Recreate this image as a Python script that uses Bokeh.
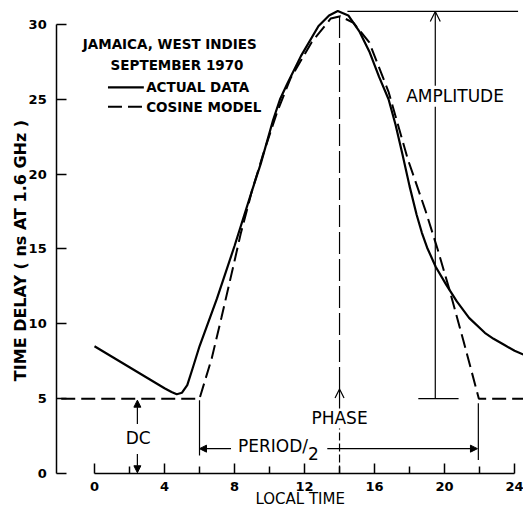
from math import pi
from bokeh.plotting import figure
from bokeh.models import Range1d, FixedTicker, Arrow, OpenHead, NormalHead, LinearAxis
from bokeh.core.properties import value
from bokeh.embed import file_html
from bokeh.resources import INLINE

# ---- data ----
actual_time = [0, 1, 2, 3, 4, 4.4, 4.7, 5.0, 5.3, 5.6, 6.0, 6.5, 7.0, 8.0, 9.0, 9.5,
               10.2, 10.6, 11.0, 11.8, 12.8, 13.4, 13.9, 14.5, 15.15, 15.7, 16.26,
               16.8, 17.2, 17.6, 18.0, 18.4, 18.7, 19.0, 19.5, 20.1, 20.7, 21.4, 22.3,
               22.8, 23.4, 24.0, 24.5]
actual_delay = [8.5, 7.8, 7.1, 6.4, 5.7, 5.45, 5.3, 5.4, 5.9, 7.0, 8.5, 10.1, 11.7,
                15.2, 18.9, 20.7, 23.6, 25.0, 26.0, 27.9, 29.9, 30.6, 30.9, 30.6,
                29.5, 28.2, 26.5, 25.0, 23.3, 21.3, 19.2, 17.3, 16.1, 15.1, 13.8,
                12.6, 11.5, 10.4, 9.4, 9.0, 8.6, 8.2, 7.95]

model_time = [-1.9, 6.0, 6.7, 7.25, 8.0, 8.35, 9.0, 9.6, 10.45, 11.2, 12.4, 13.5,
              14.05, 14.8, 15.7, 16.8, 17.9, 18.9, 19.6, 20.3, 21.07, 21.96, 24.6]
model_delay = [5.0, 5.0, 7.7, 10.4, 14.2, 16.0, 18.9, 21.2, 24.2, 26.4, 28.8, 30.4,
               30.55, 30.1, 28.8, 25.5, 21.0, 17.6, 15.0, 12.2, 8.9, 5.0, 5.0]

x_ticks = [0, 4, 8, 12, 16, 20, 24]
x_minor = [2, 6, 10, 14, 18, 22]
y_ticks = [0, 5, 10, 15, 20, 25, 30]

dc_level = 5.0
peak_level = 30.87
phase_time = 14.0
amp_time = 19.47
period_start = 6.0
period_end = 21.93

y_axis_at = -2.18      # time value where the delay axis stands
FONT = "DejaVu Sans"

p = figure(width=523, height=507, output_backend="svg", toolbar_location=None,
           x_range=Range1d(-5.37, 24.51), y_range=Range1d(-2.27, 31.6),
           min_border_left=0, min_border_right=0, min_border_top=0,
           min_border_bottom=0)
p.outline_line_color = None
p.grid.visible = False
p.background_fill_color = "white"

# x axis: line + short ticks (main axis), long ticks (second axis)
xa = p.xaxis[0]
xa.fixed_location = 0
xa.ticker = FixedTicker(ticks=[], minor_ticks=x_minor)
xa.bounds = (0, 24)
xa.minor_tick_in = 7
xa.minor_tick_out = 0
xa.major_tick_in = 0
xa.major_tick_out = 0
xa.axis_line_width = 1.5
xa.minor_tick_line_width = 1.5
xa.major_label_standoff = 0

xa2 = LinearAxis(fixed_location=0, ticker=FixedTicker(ticks=[], minor_ticks=x_ticks),
                 bounds=(0, 24), axis_line_color=None, minor_tick_in=10, minor_tick_out=0,
                 major_tick_in=0, major_tick_out=0, minor_tick_line_width=1.5,
                 major_label_standoff=0)
p.add_layout(xa2, "below")

ya = p.yaxis[0]
ya.fixed_location = y_axis_at
ya.ticker = FixedTicker(ticks=[], minor_ticks=y_ticks)
ya.bounds = (0, 30)
ya.minor_tick_in = 10
ya.minor_tick_out = 0
ya.major_tick_in = 0
ya.major_tick_out = 0
ya.axis_line_width = 1.5
ya.minor_tick_line_width = 1.5
ya.major_label_standoff = 0

# tick labels and axis titles
p.text(x=x_ticks, y=[-0.87] * len(x_ticks), text=[str(t) for t in x_ticks],
       text_font=value(FONT), text_font_style="bold", text_font_size="13px",
       text_align="center", text_baseline="middle", text_color="black")
p.text(x=[y_axis_at - 0.55] * len(y_ticks), y=y_ticks, text=[str(t) for t in y_ticks],
       text_font=value(FONT), text_font_style="bold", text_font_size="13px",
       text_align="right", text_baseline="middle", text_color="black")
p.text(x=[11.75], y=[-1.68], text=["LOCAL TIME"], text_font=value(FONT),
       text_font_size="15px", text_align="center", text_baseline="middle", text_color="black")
p.text(x=[-4.23], y=[14.9], text=["TIME DELAY ( ns AT 1.6 GHz )"], angle=pi / 2,
       text_font=value(FONT), text_font_style="bold", text_font_size="16px",
       text_align="center", text_baseline="middle", text_color="black")

# curves
p.line(actual_time, actual_delay, line_color="black", line_width=2.2)
p.line(model_time, model_delay, line_color="black", line_width=2.0, line_dash="14 6")

# legend (drawn manually)
p.text(x=[4.3, 4.85], y=[28.7, 27.3], text=["JAMAICA, WEST INDIES", "SEPTEMBER  1970"],
       text_font=value(FONT), text_font_style="bold", text_font_size="13.5px",
       text_align="center", text_baseline="middle", text_color="black")
p.line([0.77, 2.82], [25.8, 25.8], line_color="black", line_width=2.2)
p.line([0.77, 2.82], [24.5, 24.5], line_color="black", line_width=2.0, line_dash="14 6")
p.text(x=[2.95, 2.95], y=[25.8, 24.5], text=["ACTUAL DATA", "COSINE MODEL"],
       text_font=value(FONT), text_font_style="bold", text_font_size="13.5px",
       text_align="left", text_baseline="middle", text_color="black")

# amplitude construction
p.line([phase_time + 0.45, 24.2], [peak_level, peak_level], line_color="black", line_width=1.2)
p.line([18.5, 20.8], [dc_level, dc_level], line_color="black", line_width=1.2)
p.line([amp_time, amp_time], [dc_level, 24.5], line_color="black", line_width=1.2)
p.add_layout(Arrow(end=OpenHead(size=10, line_width=1.2), x_start=amp_time, y_start=25.9,
                   x_end=amp_time, y_end=peak_level, line_width=1.2))
p.text(x=[20.6], y=[25.2], text=["AMPLITUDE"], text_font=value(FONT),
       text_font_size="17px", text_align="center", text_baseline="middle", text_color="black")

# phase construction
p.line([phase_time, phase_time], [5.65, peak_level], line_color="black", line_width=1.2,
       line_dash="22 5")
p.line([phase_time, phase_time], [0, 3.0], line_color="black", line_width=1.2,
       line_dash="8 3")
p.add_layout(Arrow(end=OpenHead(size=9, line_width=1.2), x_start=phase_time, y_start=4.35,
                   x_end=phase_time, y_end=5.65, line_width=1.2))
p.text(x=[phase_time], y=[3.7], text=["PHASE"], text_font=value(FONT),
       text_font_size="17px", text_align="center", text_baseline="middle", text_color="black")

# DC construction
p.add_layout(Arrow(end=NormalHead(size=7, fill_color="black", line_color="black"),
                   x_start=2.45, y_start=3.3, x_end=2.45, y_end=dc_level - 0.1, line_width=1.2))
p.add_layout(Arrow(end=NormalHead(size=7, fill_color="black", line_color="black"),
                   x_start=2.45, y_start=1.3, x_end=2.45, y_end=0.05, line_width=1.2))
p.text(x=[2.5], y=[2.4], text=["DC"], text_font=value(FONT),
       text_font_size="17px", text_align="center", text_baseline="middle", text_color="black")

# period/2 construction
p.line([period_start, period_start], [1.2, 4.9], line_color="black", line_width=1.2)
p.line([period_end, period_end], [0.9, 4.7], line_color="black", line_width=1.2)
p.add_layout(Arrow(end=NormalHead(size=7, fill_color="black", line_color="black"),
                   x_start=7.8, y_start=1.66, x_end=period_start, y_end=1.66, line_width=1.2))
p.add_layout(Arrow(end=NormalHead(size=7, fill_color="black", line_color="black"),
                   x_start=13.3, y_start=1.66, x_end=period_end - 0.05, y_end=1.66, line_width=1.2))
p.text(x=[10.2], y=[1.86], text=["PERIOD/"], text_font=value(FONT),
       text_font_size="17px", text_align="center", text_baseline="middle", text_color="black")
p.text(x=[12.5], y=[1.35], text=["2"], text_font=value(FONT),
       text_font_size="17px", text_align="center", text_baseline="middle", text_color="black")

open("out.html", "w").write(file_html(p, INLINE))
